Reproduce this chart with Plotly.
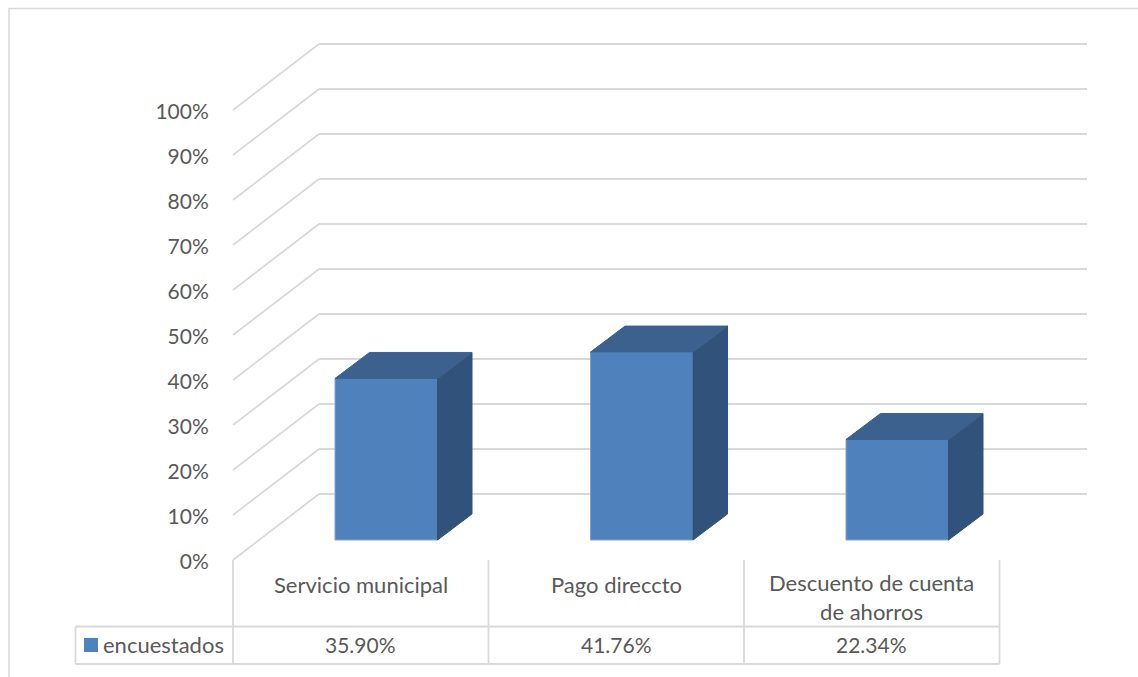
import plotly.graph_objects as go

categories = ["Servicio municipal", "Pago direccto", "Descuento de cuenta<br>de ahorros"]
values = [35.90, 41.76, 22.34]
value_labels = ["35.90%", "41.76%", "22.34%"]
series_name = "encuestados"
ticks = list(range(0, 101, 10))
tick_labels = [f"{t}%" for t in ticks]

W, H = 1138, 677
X0, Y0 = 233, 560        # window pixel position of x=0, y=0
UX, UY = 255.5, 4.5      # pixels per category, pixels per percent
FONT = "Lato"
TXT = "#595959"
GRID = "#D9D9D9"
FRONT, SIDE, TOP = "#4F81BD", "#31527A", "#3C618F"
EDGE = "#7FA3CF"


def px(p):
    return (p - X0) / UX


def py(p):
    return (Y0 - p) / UY


wall_dx, wall_dy = 86 / UX, 66 / UY
wall_end = px(1087)
bar_dx, bar_dy = 34.5 / UX, 26 / UY
bar_w = 102.5 / UX
bar_off = 0.5 + 25.5 / UX
floor = 20 / UY

fig = go.Figure()

shapes = []
for t in ticks:
    shapes.append(dict(type="line", xref="x", yref="y", layer="below", x0=0, y0=t,
                       x1=wall_dx, y1=t + wall_dy, line=dict(color=GRID, width=1.8)))
    shapes.append(dict(type="line", xref="x", yref="y", layer="below", x0=wall_dx, y0=t + wall_dy,
                       x1=wall_end, y1=t + wall_dy, line=dict(color=GRID, width=1.8)))

centers = [i + bar_off for i in range(len(categories))]
fig.add_trace(go.Bar(x=centers, y=values, base=[floor] * 3, width=bar_w,
                     marker=dict(color=FRONT, line=dict(color=EDGE, width=1)),
                     showlegend=False, hoverinfo="skip"))

for c, v in zip(centers, values):
    r, l = c + bar_w / 2, c - bar_w / 2
    top = floor + v
    fig.add_trace(go.Scatter(x=[r, r + bar_dx, r + bar_dx, r, r], y=[floor, floor + bar_dy, top + bar_dy, top, floor],
                             mode="lines", fill="toself", fillcolor=SIDE, line=dict(color=SIDE, width=1),
                             showlegend=False, hoverinfo="skip"))
    fig.add_trace(go.Scatter(x=[l, r, r + bar_dx, l + bar_dx, l], y=[top, top, top + bar_dy, top + bar_dy, top],
                             mode="lines", fill="toself", fillcolor=TOP, line=dict(color=TOP, width=1),
                             showlegend=False, hoverinfo="skip"))


def rule(xs, ys, width=1.8):
    fig.add_trace(go.Scatter(x=xs, y=ys, mode="lines", line=dict(color=GRID, width=width),
                             showlegend=False, hoverinfo="skip"))


# data table
t_top, t_bot, t_left = py(626.5), py(664), px(75.5)
for i in range(len(categories) + 1):
    rule([i, i], [0, t_bot])
rule([t_left, len(categories)], [t_top, t_top])
rule([t_left, len(categories)], [t_bot, t_bot])
rule([t_left, t_left], [t_top, t_bot])
# chart frame
rule([px(9), px(9), px(W)], [py(H), py(8.5), py(8.5)], 1.5)

fig.add_trace(go.Scatter(x=[px(91)], y=[py(645)], mode="markers",
                         marker=dict(symbol="square", size=14, color=FRONT, line=dict(width=0)),
                         showlegend=False, hoverinfo="skip"))

ann = [dict(x=i + 0.5, y=py(584 if i < 2 else 597), xref="x", yref="y", text=c, showarrow=False,
            font=dict(family=FONT, size=22, color=TXT), yanchor="middle", xanchor="center")
       for i, c in enumerate(categories)]
ann += [dict(x=i + 0.5, y=py(644.5), xref="x", yref="y", text=s, showarrow=False,
             font=dict(family=FONT, size=21, color=TXT), yanchor="middle", xanchor="center")
        for i, s in enumerate(value_labels)]
ann.append(dict(x=px(104), y=py(644.5), xref="x", yref="y", text=series_name, showarrow=False,
                font=dict(family=FONT, size=22, color=TXT), yanchor="middle", xanchor="left", xshift=-3))

fig.update_layout(
    width=W, height=H, autosize=False,
    margin=dict(l=0, r=0, t=0, b=0, pad=0),
    paper_bgcolor="white", plot_bgcolor="rgba(0,0,0,0)",
    showlegend=False, shapes=shapes, annotations=ann,
    xaxis=dict(range=[px(0), px(W)], showgrid=False, zeroline=False, showticklabels=False,
               ticks="", showline=False),
    yaxis=dict(range=[py(H), py(0)], tickmode="array", tickvals=ticks, ticktext=tick_labels,
               anchor="free", position=X0 / W, ticklabelshift=2,
               showgrid=False, zeroline=False, showline=False, ticks="outside", ticklen=20,
               tickcolor="rgba(0,0,0,0)", tickfont=dict(family=FONT, size=21, color=TXT)),
)
fig.write_html("out.html", config={"displayModeBar": False},
               post_script="document.body.style.margin='0';document.body.style.overflow='hidden';")
